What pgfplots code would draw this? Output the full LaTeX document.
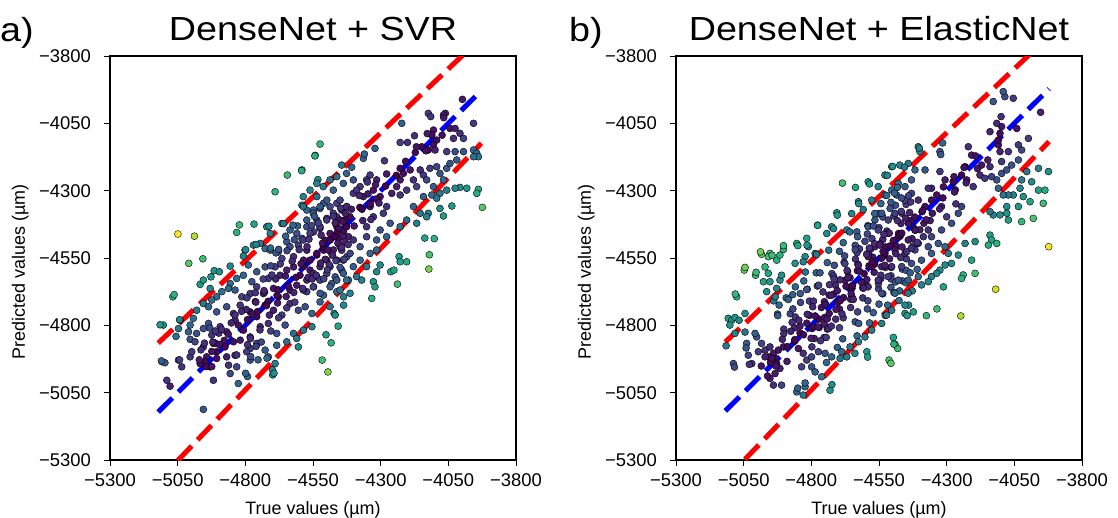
\documentclass[border=0pt]{standalone}
\usepackage{fontspec}
\setmainfont{Liberation Sans}
\newfontfamily\titlefont[FakeStretch=1.13]{Liberation Sans}
\usepackage{pgfplots}
\usepackage{pgfplotstable}
\pgfplotsset{compat=1.18}

\pgfplotstableread{
x y
-5049 -4461
-4988 -4469
-5009 -4570
-4957 -4553
-5068 -4694
-4822 -4427
-4768 -4424
-4832 -4455
-4516 -4929
-4495 -4973
-4483 -4865
-4502 -4835
-4457 -4803
-4472 -4756
-4699 -4984
-4955 -5112
-5103 -4799
-5108 -4935
-5097 -4939
-5090 -5004
-5078 -5026
-5047 -4929
-5035 -4954
-4721 -4434
-4708 -4459
-4745 -4496
-4770 -4502
-4801 -4521
-4807 -4543
-4856 -4580
-4915 -4597
-4896 -4601
-4927 -4620
-4967 -4648
-4955 -4632
-4930 -4663
-5041 -4781
-5047 -4812
-5010 -4824
-5004 -4852
-4986 -4861
-4955 -4880
-4727 -4515
-4708 -4521
-4665 -4422
-4591 -4354
-4573 -4372
-4548 -4372
-4524 -4366
-4511 -4347
-4487 -4360
-4462 -4347
-4444 -4372
-4425 -4360
-4536 -4409
-4499 -4403
-4462 -4397
-4431 -4409
-4659 -4422
-4635 -4446
-4610 -4459
-4573 -4434
-4548 -4453
-4524 -4440
-4487 -4459
-4462 -4434
-4437 -4453
-4591 -4477
-4505 -4484
-4456 -4477
-4419 -4471
-4647 -4490
-4635 -4508
-4604 -4502
-4573 -4521
-4536 -4539
-4511 -4521
-4481 -4533
-4444 -4521
-4425 -4545
-4665 -4552
-4622 -4545
-4585 -4558
-4678 -4527
-4789 -4576
-4758 -4601
-4727 -4583
-4690 -4583
-4672 -4614
-4647 -4595
-4622 -4583
-4598 -4614
-4561 -4595
-4536 -4620
-4499 -4607
-4468 -4620
-4444 -4595
-4419 -4632
-4832 -4626
-4807 -4614
-4776 -4638
-4856 -4645
-4715 -4626
-4887 -4675
-4862 -4663
-4838 -4669
-4813 -4694
-4782 -4682
-4758 -4657
-4733 -4682
-4696 -4663
-4678 -4694
-4635 -4669
-4610 -4651
-4573 -4675
-4548 -4657
-4511 -4688
-4481 -4645
-4462 -4675
-4437 -4694
-4906 -4694
-4924 -4706
-4980 -4744
-4955 -4719
-4936 -4731
-4906 -4750
-4869 -4731
-4844 -4756
-4819 -4725
-4782 -4750
-4758 -4768
-4727 -4725
-4696 -4744
-4665 -4762
-4635 -4719
-4604 -4744
-4579 -4731
-4554 -4756
-4524 -4713
-4487 -4731
-4468 -4762
-4437 -4725
-4992 -4774
-5004 -4799
-4955 -4812
-4936 -4793
-4924 -4836
-4893 -4805
-4869 -4824
-4838 -4781
-4807 -4818
-4782 -4843
-4745 -4805
-4715 -4793
-4684 -4830
-4653 -4799
-4622 -4830
-4585 -4818
-4554 -4805
-4980 -4830
-4918 -4867
-4906 -4898
-4875 -4880
-4844 -4861
-4819 -4855
-4782 -4886
-4758 -4867
-4727 -4892
-4684 -4874
-4647 -4861
-4604 -4880
-4610 -4849
-4943 -4917
-4869 -4917
-4838 -4911
-4795 -4898
-4967 -4942
-4930 -4954
-4949 -4935
-4862 -4948
-4832 -4954
-4856 -4979
-4826 -5016
-4782 -4929
-4715 -4917
-4690 -4942
-4906 -4923
-5004 -4917
-4998 -4898
-4918 -5004
-5115 -4798
-5110 -4932
-5056 -4841
-5043 -4928
-5063 -4686
-5043 -4779
-4970 -4928
-4964 -4891
-4951 -4866
-4944 -4953
-4924 -4953
-4924 -4897
-4911 -4866
-4931 -4810
-4898 -4829
-4780 -4916
-4753 -4928
-4700 -4965
-4694 -4978
-4720 -4922
-4792 -4990
-4799 -4978
-4832 -4910
-4792 -4872
-4760 -4878
-4690 -4304
-4645 -4242
-4542 -4169
-4591 -4223
-4532 -4259
-4799 -4519
-4760 -4500
-4713 -4432
-4707 -4513
-4687 -4531
-3998 -3961
-3957 -4050
-4124 -4013
-4115 -4025
-4061 -4013
-4068 -4019
-4044 -4069
-4025 -4069
-4007 -4087
-4031 -4106
-3994 -4106
-4222 -4050
-4175 -4096
-4228 -4121
-4201 -4121
-4105 -4075
-4111 -4093
-4093 -4112
-4105 -4130
-4099 -4149
-4124 -4149
-4148 -4137
-4056 -4155
-4025 -4155
-4019 -4186
-3957 -4149
-3945 -4161
-3939 -4174
-3957 -4174
-3994 -4155
-4321 -4143
-4286 -4189
-4364 -4180
-4360 -4164
-4407 -4213
-4339 -4242
-4444 -4205
-4524 -4127
-4543 -4171
-4592 -4226
-3939 -4295
-3945 -4310
-3982 -4291
-4007 -4288
-4025 -4291
-4037 -4357
-4068 -4394
-4081 -4366
-4124 -4384
-4130 -4397
-4137 -4476
-4102 -4478
-4120 -4538
-4122 -4591
-3924 -4362
-4238 -4647
-4263 -4601
-4251 -4595
-4232 -4545
-4228 -4564
-4204 -4564
-4327 -4638
-4315 -4601
-4302 -4576
-4321 -4657
-4370 -4632
-4333 -4700
-4228 -4217
-4216 -4236
-4191 -4223
-4228 -4260
-4241 -4285
-4259 -4310
-4228 -4316
-4204 -4298
-4179 -4260
-4154 -4223
-4142 -4242
-4118 -4217
-4093 -4211
-4081 -4236
-4056 -4217
-4044 -4199
-4130 -4260
-4105 -4285
-4068 -4260
-4167 -4285
-4142 -4322
-4111 -4316
-4081 -4310
-4056 -4298
-4093 -4328
-4179 -4359
-4154 -4384
-4167 -4421
-4204 -4409
-4228 -4434
-4265 -4421
-4290 -4384
-4278 -4359
-4302 -4322
-4327 -4298
-4352 -4260
-4315 -4260
-4376 -4285
-4401 -4310
-4364 -4322
-4339 -4359
-4327 -4397
-4352 -4434
-4302 -4446
-4278 -4471
-4315 -4483
-4352 -4471
-4376 -4508
-4401 -4483
-4413 -4533
-4438 -4558
-4339 -4533
-4315 -4520
-4376 -4558
-4401 -4582
-4438 -4607
-4462 -4632
-4426 -4632
-4389 -4619
-4352 -4582
-4487 -4657
-4524 -4681
-4450 -4669
-4413 -4681
-4586 -4322
-4561 -4298
-4536 -4273
-4512 -4285
-4487 -4260
-4462 -4248
-4438 -4273
-4426 -4236
-4401 -4260
-4389 -4298
-4475 -4298
-4499 -4335
-4524 -4359
-4549 -4384
-4573 -4409
-4586 -4359
-4536 -4322
-4450 -4335
-4426 -4359
-4475 -4384
-4499 -4409
-4524 -4434
-4561 -4458
-4586 -4483
-4450 -4409
-4426 -4434
-4462 -4458
-4487 -4483
-4512 -4508
-4536 -4533
-4561 -4558
-4586 -4582
-4413 -4397
-4438 -4471
-4475 -4520
-4499 -4558
-4524 -4582
-4549 -4607
-4573 -4632
-4586 -4669
-4549 -4657
-4524 -4632
-4487 -4582
-4450 -4508
-4462 -4558
-4475 -4395
-4468 -4420
-4455 -4440
-4440 -4415
-4430 -4385
-4448 -4365
-4470 -4470
-4458 -4495
-4445 -4510
-4432 -4490
-4420 -4500
-4478 -4540
-4465 -4560
-4450 -4585
-4435 -4555
-4490 -4575
-4505 -4555
-4495 -4520
-4515 -4495
-4520 -4465
-4530 -4420
-4545 -4395
-4555 -4430
-4565 -4480
-4572 -4508
-4601 -4519
-4594 -4571
-4627 -4562
-4613 -4622
-4652 -4617
-4641 -4655
-4679 -4668
-4688 -4628
-4683 -4689
-4716 -4711
-4729 -4677
-4722 -4727
-4755 -4749
-4763 -4712
-4776 -4758
-4792 -4779
-4797 -4741
-4814 -4748
-4826 -4799
-4838 -4762
-4852 -4791
-4863 -4833
-4878 -4856
-4888 -4815
-4897 -4871
-4911 -4821
-4920 -4862
-4568 -4622
-4553 -4628
-4538 -4614
-4522 -4569
-4510 -4627
-4497 -4594
-4588 -4663
-4621 -4678
-4617 -4714
-4649 -4693
-4647 -4735
-4681 -4717
-4677 -4772
-4711 -4762
-4706 -4821
-4746 -4817
-4741 -4862
-4781 -4849
-4607 -4431
-4624 -4428
-4619 -4482
-4651 -4469
-4646 -4523
-4677 -4518
-4671 -4572
-4706 -4579
-4702 -4613
-4734 -4628
-4731 -4671
-4763 -4679
-4761 -4714
-4794 -4698
-4408 -4369
-4377 -4362
-4379 -4318
-4347 -4312
-4349 -4268
-4317 -4331
-4319 -4278
-4282 -4283
-4278 -4238
-4242 -4243
-4398 -4431
-4366 -4411
-4369 -4369
-4336 -4407
-4338 -4349
-4306 -4346
-4208 -4191
-4172 -4158
-4168 -4137
-4133 -4152
-4128 -4088
-4073 -4094
-4067 -4029
}\dataA

\pgfplotstableread{
x y
-5048 -4595
-5006 -4614
-5076 -4694
-4984 -4536
-4953 -4533
-4959 -4545
-4928 -4558
-4903 -4518
-4916 -4539
-4971 -4583
-4959 -4607
-4977 -4638
-4953 -4638
-4965 -4675
-4928 -4663
-4916 -4632
-4910 -4614
-4854 -4496
-4817 -4477
-4811 -4508
-4823 -4545
-4830 -4564
-4860 -4570
-4786 -4533
-4777 -4428
-4743 -4459
-4725 -4434
-4706 -4382
-4651 -4385
-4626 -4341
-4669 -4446
-4632 -4453
-5107 -4774
-5094 -4781
-5082 -4771
-5067 -4781
-5101 -4799
-5045 -4756
-5039 -4867
-5002 -4843
-5008 -4830
-5082 -4830
-5088 -4942
-5033 -4911
-5020 -4942
-4939 -4709
-4933 -4694
-4893 -4698
-4885 -4704
-4878 -4757
-4919 -4725
-4925 -4758
-4924 -4764
-4871 -4789
-4868 -4739
-4840 -4715
-4841 -4682
-4807 -4710
-4792 -4710
-4749 -4719
-4734 -4688
-4703 -4715
-4763 -4734
-4772 -4777
-4807 -4763
-4815 -4759
-4859 -4769
-4862 -4809
-4842 -4803
-4798 -4812
-4789 -4806
-4753 -4795
-4751 -4771
-4710 -4777
-4696 -4739
-4655 -4734
-4650 -4694
-4610 -4698
-4595 -4654
-4552 -4664
-4543 -4626
-4506 -4616
-4505 -4585
-4464 -4591
-4449 -4553
-4828 -4635
-4822 -4602
-4782 -4605
-4768 -4605
-4724 -4608
-4715 -4577
-4679 -4566
-4677 -4542
-4637 -4554
-4622 -4516
-4581 -4517
-4576 -4478
-4536 -4481
-4521 -4450
-4478 -4459
-4469 -4422
-4432 -4411
-4437 -4381
-4778 -4654
-4773 -4651
-4733 -4649
-4718 -4617
-4675 -4633
-4666 -4601
-4630 -4597
-4628 -4573
-4587 -4579
-4573 -4547
-4532 -4542
-4526 -4509
-4487 -4506
-4472 -4469
-4428 -4478
-4420 -4440
-4717 -4684
-4711 -4651
-4672 -4655
-4657 -4623
-4613 -4639
-4605 -4608
-4568 -4603
-4566 -4573
-4526 -4585
-4511 -4553
-4470 -4548
-4465 -4509
-4425 -4506
-4655 -4703
-4650 -4663
-4610 -4661
-4595 -4630
-4552 -4645
-4543 -4614
-4506 -4659
-4505 -4628
-4464 -4635
-4449 -4596
-4409 -4592
-4741 -4567
-4736 -4521
-4696 -4525
-4682 -4493
-4638 -4503
-4629 -4471
-4593 -4461
-4591 -4430
-4550 -4437
-4536 -4398
-4495 -4394
-4489 -4354
-4450 -4351
-4608 -4370
-4552 -4385
-4543 -4348
-4506 -4343
-4815 -4666
-4859 -4657
-4869 -4686
-4817 -4667
-4741 -4814
-4736 -4812
-4696 -4809
-4682 -4772
-4638 -4787
-4629 -4750
-4593 -4739
-4591 -4709
-4550 -4721
-4536 -4683
-4495 -4678
-4489 -4639
-4450 -4642
-4435 -4605
-4902 -4814
-4902 -4831
-4862 -4859
-4842 -4828
-4798 -4880
-4789 -4849
-4753 -4845
-4745 -4845
-4704 -4882
-4684 -4850
-4631 -4839
-4625 -4793
-4585 -4791
-4571 -4753
-4527 -4763
-4518 -4725
-4476 -4708
-4474 -4672
-4427 -4672
-4441 -4725
-4454 -4756
-4503 -4744
-4522 -4762
-4540 -4793
-4577 -4818
-4602 -4843
-4626 -4861
-4657 -4880
-4688 -4898
-4984 -4867
-4971 -4892
-4953 -4880
-4940 -4904
-4959 -4917
-4934 -4923
-4922 -4892
-4903 -4880
-4928 -4942
-4916 -4960
-4934 -4979
-4953 -4997
-4940 -5022
-4971 -4917
-4996 -4898
-4848 -4886
-4830 -4904
-4817 -4929
-4799 -4917
-4774 -4898
-4749 -4904
-4725 -4917
-4694 -4923
-4669 -4917
-4639 -4904
-4595 -4898
-4836 -4954
-4799 -4954
-4786 -4973
-4762 -4991
-4731 -5041
-4854 -5047
-4830 -5059
-4823 -5028
-4910 -5022
-4497 -4845
-4491 -4870
-4481 -4886
-4513 -4929
-4454 -4725
-4423 -4750
-3923 -4508
-4119 -4666
-3980 -4403
-4023 -4415
-3943 -4347
-3937 -4298
-3961 -4298
-3992 -4341
-4017 -4322
-4035 -4359
-4078 -4359
-4078 -4384
-4072 -4409
-4103 -4390
-4128 -4390
-4140 -4378
-4140 -4465
-4134 -4483
-4115 -4496
-4146 -4502
-4195 -4607
-4239 -4613
-4245 -4626
-4208 -4558
-4232 -4496
-4195 -4489
-4257 -4539
-4282 -4570
-4306 -4576
-4325 -4595
-4337 -4607
-4356 -4619
-4312 -4657
-4368 -4638
-4393 -4650
-3924 -4229
-3961 -4217
-4004 -4229
-4023 -4260
-3986 -4267
-4029 -4291
-4054 -4316
-4072 -4316
-4091 -4316
-4109 -4291
-4115 -4260
-4097 -4236
-4078 -4223
-4060 -4205
-4035 -4186
-4023 -4149
-4035 -4130
-3998 -4106
-4072 -4155
-4097 -4192
-4103 -4155
-4109 -4130
-4103 -4087
-4097 -4062
-4099 -4025
-4115 -4050
-4140 -4081
-4109 -4112
-4041 -4069
-4085 -3951
-4054 -3957
-4128 -3969
-4091 -3932
-3953 -4009
-4220 -4137
-4208 -4168
-4232 -4211
-4171 -4205
-4140 -4211
-4177 -4242
-4159 -4254
-4134 -4248
-4202 -4285
-4226 -4260
-4245 -4242
-4276 -4267
-4306 -4260
-4325 -4229
-4356 -4291
-4337 -4316
-4368 -4291
-4399 -4155
-4405 -4137
-4325 -4155
-4442 -4199
-4417 -4223
-4380 -4223
-4473 -4205
-4503 -4211
-4528 -4242
-4590 -4267
-4553 -4285
-4577 -4335
-4528 -4316
-4503 -4298
-4479 -4273
-4454 -4285
-4430 -4260
-4485 -4316
-4454 -4335
-4430 -4310
-4405 -4335
-4380 -4359
-4356 -4335
-4319 -4359
-4300 -4397
-4282 -4421
-4257 -4384
-4245 -4359
-4319 -4446
-4356 -4471
-4386 -4471
-4417 -4446
-4442 -4421
-4466 -4384
-4491 -4384
-4516 -4409
-4540 -4384
-4565 -4409
-4590 -4434
-4553 -4446
-4516 -4458
-4479 -4471
-4442 -4483
-4405 -4496
-4368 -4508
-4331 -4496
-4306 -4508
-4294 -4533
-4417 -4520
-4454 -4533
-4491 -4520
-4528 -4533
-4565 -4508
-4590 -4533
-4577 -4582
-4540 -4582
-4503 -4582
-4466 -4582
-4430 -4570
-4393 -4558
-4356 -4533
-4553 -4632
-4516 -4619
-4479 -4632
-4442 -4632
-4405 -4619
-4590 -4657
-4540 -4681
-4491 -4681
-4442 -4681
-4248 -4765
-4336 -4739
-4375 -4764
-4506 -4941
-4495 -4870
-4592 -4918
-4446 -4764
-4850 -5033
-4823 -5014
-4724 -5020
-4744 -4938
-5081 -4684
-5045 -4585
-5004 -4603
-4988 -4527
-4945 -4540
-4903 -4504
-5041 -4884
-5029 -4945
-5084 -4955
-5115 -4876
-5045 -4825
-4685 -4272
-4637 -4288
-4585 -4275
-4519 -4243
-4500 -4210
-4456 -4213
-4401 -4142
-4322 -4166
-4315 -4123
-4625 -4348
-4566 -4385
-4704 -4391
-4658 -4453
-4777 -4429
-4718 -4441
-4816 -4502
-4850 -4504
-4781 -4537
-4522 -4318
-4509 -4366
-4493 -4309
-4482 -4288
-4467 -4327
-4468 -4377
-4441 -4319
-4452 -4402
-4418 -4398
-4399 -4445
-4482 -4411
-4473 -4462
-4512 -4458
-4509 -4505
-4546 -4497
-4541 -4551
-4466 -4458
-4431 -4514
-4409 -4492
-4416 -4447
-4384 -4421
-4391 -4378
-4353 -4384
-4361 -4411
-4326 -4368
-4532 -4462
-4571 -4431
-4566 -4497
-4602 -4488
-4590 -4545
-4631 -4530
-4622 -4599
-4668 -4596
-4648 -4652
-4694 -4631
-4681 -4697
-4727 -4689
-4709 -4741
-4752 -4712
-4741 -4776
-4786 -4765
-4771 -4808
-4817 -4792
-4801 -4848
-4846 -4781
-4829 -4835
-4876 -4822
-4861 -4853
-4907 -4852
-4889 -4879
-4795 -4731
-4748 -4722
-4757 -4676
-4704 -4671
-4716 -4628
-4665 -4623
-4676 -4571
-4626 -4577
-4638 -4519
-4586 -4513
-4596 -4536
-4547 -4502
-4614 -4641
-4607 -4662
-4653 -4683
-4645 -4704
-4693 -4708
-4687 -4757
-4734 -4756
-4726 -4803
-4775 -4806
-4766 -4857
-4575 -4563
-4528 -4577
-4535 -4526
-4488 -4534
-4497 -4485
-4448 -4527
-4312 -4286
-4268 -4297
-4273 -4248
-4228 -4271
-4236 -4214
-4186 -4218
-4193 -4171
-4148 -4186
-4314 -4327
-4266 -4349
-4271 -4305
-4368 -4446
-4376 -4408
-4389 -4374
-4433 -4342
-4951 -4938
-4946 -4922
-4985 -4951
-4962 -4988
-4931 -4951
-4890 -4934
}\dataB

\pgfplotsset{
  panel/.style={
    scale only axis, width=406bp, height=404bp,
    xmin=-5300, xmax=-3800, ymin=-5300, ymax=-3800,
    xtick={-5300,-5050,-4800,-4550,-4300,-4050,-3800},
    ytick={-5300,-5050,-4800,-4550,-4300,-4050,-3800},
    xticklabels={−5300,−5050,−4800,−4550,−4300,−4050,−3800},
    yticklabels={−5300,−5050,−4800,−4550,−4300,−4050,−3800},
    tick pos=left,
    tick align=outside, major tick length=6bp,
    tick style={black, line width=1bp},
    axis line style={black, line width=1.1bp},
    xticklabel style={font=\fontsize{18.5}{22}\selectfont, anchor=north, inner sep=0pt, yshift=-7bp},
    yticklabel style={font=\fontsize{18.5}{22}\selectfont, anchor=east, inner sep=0pt, xshift=-13bp},
    xlabel={True values (µm)}, ylabel={Predicted values (µm)},
    xlabel style={font=\fontsize{18}{21}\selectfont, at={(axis description cs:0.5,-0.1337)}, anchor=base},
    ylabel style={font=\fontsize{18}{21}\selectfont, at={(axis description cs:-0.2094,0.4653)}, anchor=base},
    title style={at={(axis description cs:0.5,1.0248)}, anchor=base, font=\titlefont\fontsize{33.5}{40}\selectfont},
    colormap/viridis, point meta min=0, point meta max=590,
    clip=true,
  },
  pts/.style={scatter, only marks, mark=*, mark size=3.5bp,
    scatter/use mapped color={draw=none, fill=mapped color},
    point meta={abs(\thisrow{y}-\thisrow{x})}},
  dline/.style={line width=5bp, dash pattern=on 20bp off 8.5bp, no marks},
}

\begin{document}
\begin{tikzpicture}
\path[use as bounding box] (0bp,0bp) rectangle (1118bp,-518bp);
\node[anchor=base west, inner sep=0pt, font=\titlefont\fontsize{33.5}{40}\selectfont] at (0bp,-41bp) {a)};
\node[anchor=base west, inner sep=0pt, font=\titlefont\fontsize{33.5}{40}\selectfont] at (569bp,-41bp) {b)};
\begin{axis}[panel, at={(110bp,-460bp)}, anchor=south west, title={DenseNet + SVR}]
\addplot[pts] table {\dataA};
\addplot[dline, red] coordinates {(-5122,-4866) (-3928,-3732)};
\addplot[dline, red] coordinates {(-5122,-5378) (-3928,-4124)};
\addplot[dline, blue] coordinates {(-5122,-5122) (-3928,-3928)};
\end{axis}
\begin{axis}[panel, at={(676bp,-460bp)}, anchor=south west, title={DenseNet + ElasticNet}]
\addplot[pts] table {\dataB};
\addplot[dline, red] coordinates {(-5118,-4862) (-3922,-3726)};
\addplot[dline, red] coordinates {(-5118,-5374) (-3922,-4118)};
\addplot[dline, blue] coordinates {(-5118,-5118) (-3922,-3922)};
\end{axis}
\end{tikzpicture}
\end{document}
